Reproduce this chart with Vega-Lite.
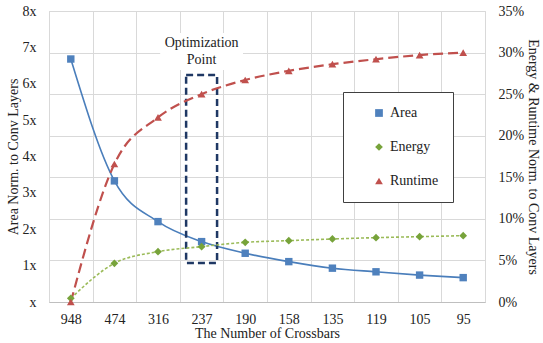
{
  "$schema": "https://vega.github.io/schema/vega-lite/v6.json",
  "width": 436,
  "height": 291,
  "autosize": {"type": "none"},
  "padding": {"left": 49, "top": 11, "right": 58, "bottom": 41},
  "background": "white",
  "config": {
    "view": {"stroke": "#D9D9D9"},
    "font": "'Liberation Serif', 'DejaVu Serif', serif",
    "axis": {
      "labelFont": "'Liberation Serif', 'DejaVu Serif', serif",
      "titleFont": "'Liberation Serif', 'DejaVu Serif', serif",
      "labelFontSize": 14,
      "titleFontSize": 14,
      "labelColor": "#222222",
      "titleColor": "#222222",
      "titleFontWeight": "normal",
      "ticks": false,
      "domain": false
    },
    "legend": {
      "orient": "none",
      "legendX": 294,
      "legendY": 81,
      "strokeColor": "#404040",
      "fillColor": "white",
      "padding": 14,
      "rowPadding": 20,
      "labelFont": "'Liberation Serif', 'DejaVu Serif', serif",
      "labelFontSize": 14,
      "labelColor": "#222222",
      "symbolSize": 60,
      "symbolOffset": 15
    }
  },
  "datasets": {
    "series": [
      {"n": "948", "series": "Area", "value": 6.68},
      {"n": "474", "series": "Area", "value": 3.33},
      {"n": "316", "series": "Area", "value": 2.21},
      {"n": "237", "series": "Area", "value": 1.66},
      {"n": "190", "series": "Area", "value": 1.34},
      {"n": "158", "series": "Area", "value": 1.11},
      {"n": "135", "series": "Area", "value": 0.93},
      {"n": "119", "series": "Area", "value": 0.83},
      {"n": "105", "series": "Area", "value": 0.74},
      {"n": "95", "series": "Area", "value": 0.67},
      {"n": "948", "series": "Energy", "value": 0.0044},
      {"n": "474", "series": "Energy", "value": 0.0465},
      {"n": "316", "series": "Energy", "value": 0.0605},
      {"n": "237", "series": "Energy", "value": 0.0666},
      {"n": "190", "series": "Energy", "value": 0.0718},
      {"n": "158", "series": "Energy", "value": 0.0738},
      {"n": "135", "series": "Energy", "value": 0.0758},
      {"n": "119", "series": "Energy", "value": 0.0774},
      {"n": "105", "series": "Energy", "value": 0.0786},
      {"n": "95", "series": "Energy", "value": 0.0798},
      {"n": "948", "series": "Runtime", "value": 0.0},
      {"n": "474", "series": "Runtime", "value": 0.166},
      {"n": "316", "series": "Runtime", "value": 0.222},
      {"n": "237", "series": "Runtime", "value": 0.25},
      {"n": "190", "series": "Runtime", "value": 0.267},
      {"n": "158", "series": "Runtime", "value": 0.278},
      {"n": "135", "series": "Runtime", "value": 0.286},
      {"n": "119", "series": "Runtime", "value": 0.292},
      {"n": "105", "series": "Runtime", "value": 0.297},
      {"n": "95", "series": "Runtime", "value": 0.30}
    ],
    "box": [{"n": "237", "value": 0.047, "value2": 0.273}],
    "labelbg": [{"n": "237", "value": 0.279, "value2": 0.3235}],
    "label": [{"n": "237", "value": 0.311, "text": "Optimization|Point"}]
  },
  "encoding": {
    "x": {
      "field": "n",
      "type": "ordinal",
      "scale": {
        "type": "band",
        "domain": ["948", "474", "316", "237", "190", "158", "135", "119", "105", "95"],
        "paddingInner": 0,
        "paddingOuter": 0
      },
      "axis": {
        "title": "The Number of Crossbars",
        "labelAngle": 0,
        "labelPadding": 10,
        "titlePadding": 0,
        "grid": true,
        "gridColor": "#D9D9D9",
        "tickBand": "extent",
        "domain": true,
        "domainColor": "#BFBFBF"
      }
    }
  },
  "layer": [
    {
      "data": {"name": "series"},
      "transform": [{"filter": "datum.series == 'Area'"}],
      "encoding": {
        "y": {
          "field": "value",
          "type": "quantitative",
          "scale": {"domain": [0, 8], "nice": false},
          "axis": {
            "orient": "left",
            "title": "Area Norm. to Conv Layers",
            "values": [0, 1, 2, 3, 4, 5, 6, 7, 8],
            "labelExpr": "datum.value == 0 ? 'x' : datum.value + 'x'",
            "grid": false,
            "labelPadding": 13,
            "titlePadding": 2
          }
        }
      },
      "layer": [
        {"mark": {"type": "line", "interpolate": "monotone", "color": "#4A7EBB", "strokeWidth": 1.6}},
        {
          "mark": {"type": "point", "filled": true, "opacity": 1, "size": 55},
          "encoding": {
            "color": {"field": "series", "type": "nominal", "scale": {"domain": ["Area", "Energy", "Runtime"], "range": ["#4F81BD", "#77A33A", "#C0504D"]}, "legend": {"title": null, "labelExpr": "datum.label + '\u00a0\u00a0\u00a0\u00a0\u00a0\u00a0\u00a0'"}},
            "shape": {"field": "series", "type": "nominal", "scale": {"domain": ["Area", "Energy", "Runtime"], "range": ["square", "diamond", "triangle-up"]}, "legend": {"title": null, "labelExpr": "datum.label + '\u00a0\u00a0\u00a0\u00a0\u00a0\u00a0\u00a0'"}}
          }
        }
      ]
    },
    {
      "encoding": {
        "y": {
          "field": "value",
          "type": "quantitative",
          "scale": {"domain": [0, 0.35], "nice": false},
          "axis": {
            "orient": "right",
            "title": "Energy & Runtime Norm. to Conv Layers",
            "values": [0, 0.05, 0.1, 0.15, 0.2, 0.25, 0.3, 0.35],
            "format": ".0%",
            "grid": true,
            "gridColor": "#D9D9D9",
            "labelPadding": 13,
            "titlePadding": 2
          }
        }
      },
      "layer": [
        {
          "data": {"name": "labelbg"},
          "mark": {"type": "bar", "fill": "white", "width": {"band": 1.9}},
          "encoding": {"y2": {"field": "value2"}}
        },
        {
          "data": {"name": "box"},
          "mark": {"type": "bar", "fill": "white", "fillOpacity": 0, "stroke": "#1F3864", "strokeWidth": 2.5, "strokeDash": [7, 4], "width": {"band": 0.71}},
          "encoding": {"y2": {"field": "value2"}}
        },
        {
          "data": {"name": "label"},
          "mark": {"type": "text", "lineBreak": "|", "lineHeight": 17, "fontSize": 14, "font": "'Liberation Serif', 'DejaVu Serif', serif", "color": "#222222", "baseline": "middle", "align": "center"},
          "encoding": {"text": {"field": "text", "type": "nominal"}}
        },
        {
          "data": {"name": "series"},
          "transform": [{"filter": "datum.series == 'Energy'"}],
          "mark": {"type": "line", "interpolate": "monotone", "color": "#9BBB59", "strokeWidth": 1.6, "strokeDash": [3, 2]}
        },
        {
          "data": {"name": "series"},
          "transform": [{"filter": "datum.series == 'Runtime'"}],
          "mark": {"type": "line", "interpolate": "monotone", "color": "#C0504D", "strokeWidth": 2.2, "strokeDash": [10, 5]}
        },
        {
          "data": {"name": "series"},
          "transform": [{"filter": "datum.series != 'Area'"}],
          "mark": {"type": "point", "filled": true, "opacity": 1, "size": 60},
          "encoding": {
            "color": {"field": "series", "type": "nominal", "legend": {"title": null}},
            "shape": {"field": "series", "type": "nominal", "legend": {"title": null}}
          }
        }
      ]
    }
  ],
  "resolve": {"scale": {"y": "independent"}}
}
